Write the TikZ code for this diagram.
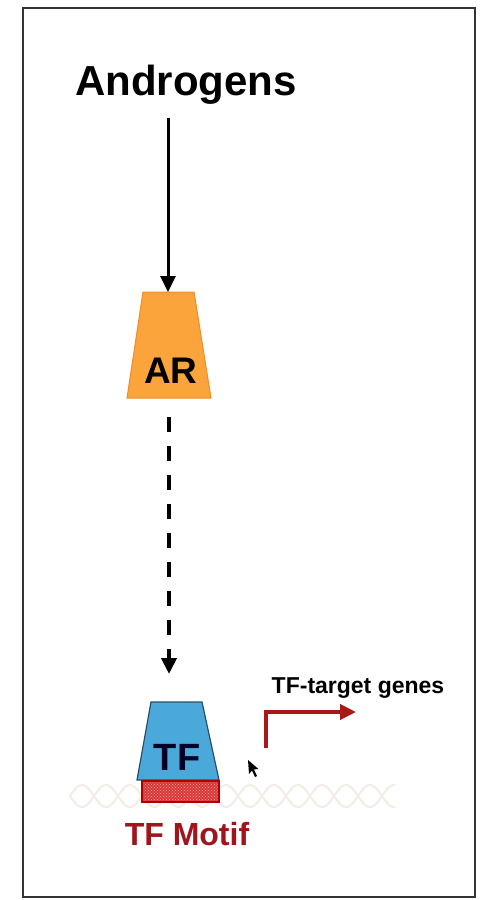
\documentclass[tikz,border=0pt]{standalone}
\usepackage{fontspec}
\setmainfont{Liberation Sans}
\usetikzlibrary{arrows.meta,patterns}
\definecolor{arorange}{HTML}{FBA43C}
\definecolor{arborder}{HTML}{F08C25}
\definecolor{tfblue}{HTML}{4AA9D8}
\definecolor{tfborder}{HTML}{2B4F6A}
\definecolor{motifred}{HTML}{A0141C}
\definecolor{genered}{HTML}{A81818}
\definecolor{hatchred}{HTML}{D83838}
\definecolor{helix}{HTML}{F3EDE4}
\begin{document}
\begin{tikzpicture}[x=1pt,y=-1pt,
  label/.style={font=\bfseries, inner sep=0pt, anchor=base},
  conn/.style={line width=3pt, -{Triangle[length=16pt,width=15pt]}},
  dconn/.style={line width=4pt, dash pattern=on 15pt off 14pt, -{Triangle[length=16pt,width=15pt]}},
  gconn/.style={line width=4pt, color=genered, -{Triangle[length=16pt,width=15pt]}}]
\useasboundingbox (0,0) rectangle (481,900);
\fill[white] (0,0) rectangle (481,900);
% frame
\draw[line width=2pt, color=black!80] (23,8) rectangle (475,897);
% helix
\draw[helix, line width=2pt, domain=70:395, samples=200, smooth] plot (\x,{796+11*sin(7.5*(\x-70))});
\draw[helix, line width=2pt, domain=70:395, samples=200, smooth] plot (\x,{796-11*sin(7.5*(\x-70))});
% Androgens
\node[label, font=\fontsize{42}{48}\selectfont\bfseries] (andr) at (186,95) {Androgens};
% AR
\draw[fill=arorange, draw=arborder, line width=1pt] (143,292) -- (194,292) -- (211,398) -- (127,398) -- cycle;
\coordinate (artop) at (168,292);
\coordinate (arbot) at (168,398);
\node[label, font=\fontsize{37}{42}\selectfont\bfseries] (ar) at (171,383) {AR};
% TF
\draw[fill=tfblue, draw=tfborder, line width=1.2pt] (151,702) -- (202,702) -- (219,780) -- (137,780) -- cycle;
\coordinate (tftop) at (169,702);
\node[label, font=\fontsize{38}{44}\selectfont\bfseries, text=black!85!blue] (tf) at (177,770) {TF};
% motif
\draw[fill=hatchred, draw=red!70!black, line width=1.2pt] (142,781) rectangle (219,802);
\fill[pattern=crosshatch dots, pattern color=white!65!red] (143.5,782.5) rectangle (217.5,800.5);
\node[label, font=\fontsize{32}{38}\selectfont\bfseries, text=motifred] (motif) at (187,845) {TF Motif};
% arrows
\draw[conn] (168,118) -- (artop);
\coordinate (dstart) at (169,417);
\coordinate (dend) at (169,674);
\draw[dconn] (dstart) -- (dend);
% gene arrow
\coordinate (gs) at (266,748);
\coordinate (ge) at (356,712);
\draw[gconn] (gs) |- (ge);
\node[label, font=\fontsize{23}{28}\selectfont\bfseries] (genes) at (358,693) {TF-target genes};
% cursor
\fill[black] (248,760) -- (249,774) -- (252,770.5) -- (255,777) -- (257,776) -- (254,769.5) -- (258.5,769) -- cycle;
\end{tikzpicture}
\end{document}
